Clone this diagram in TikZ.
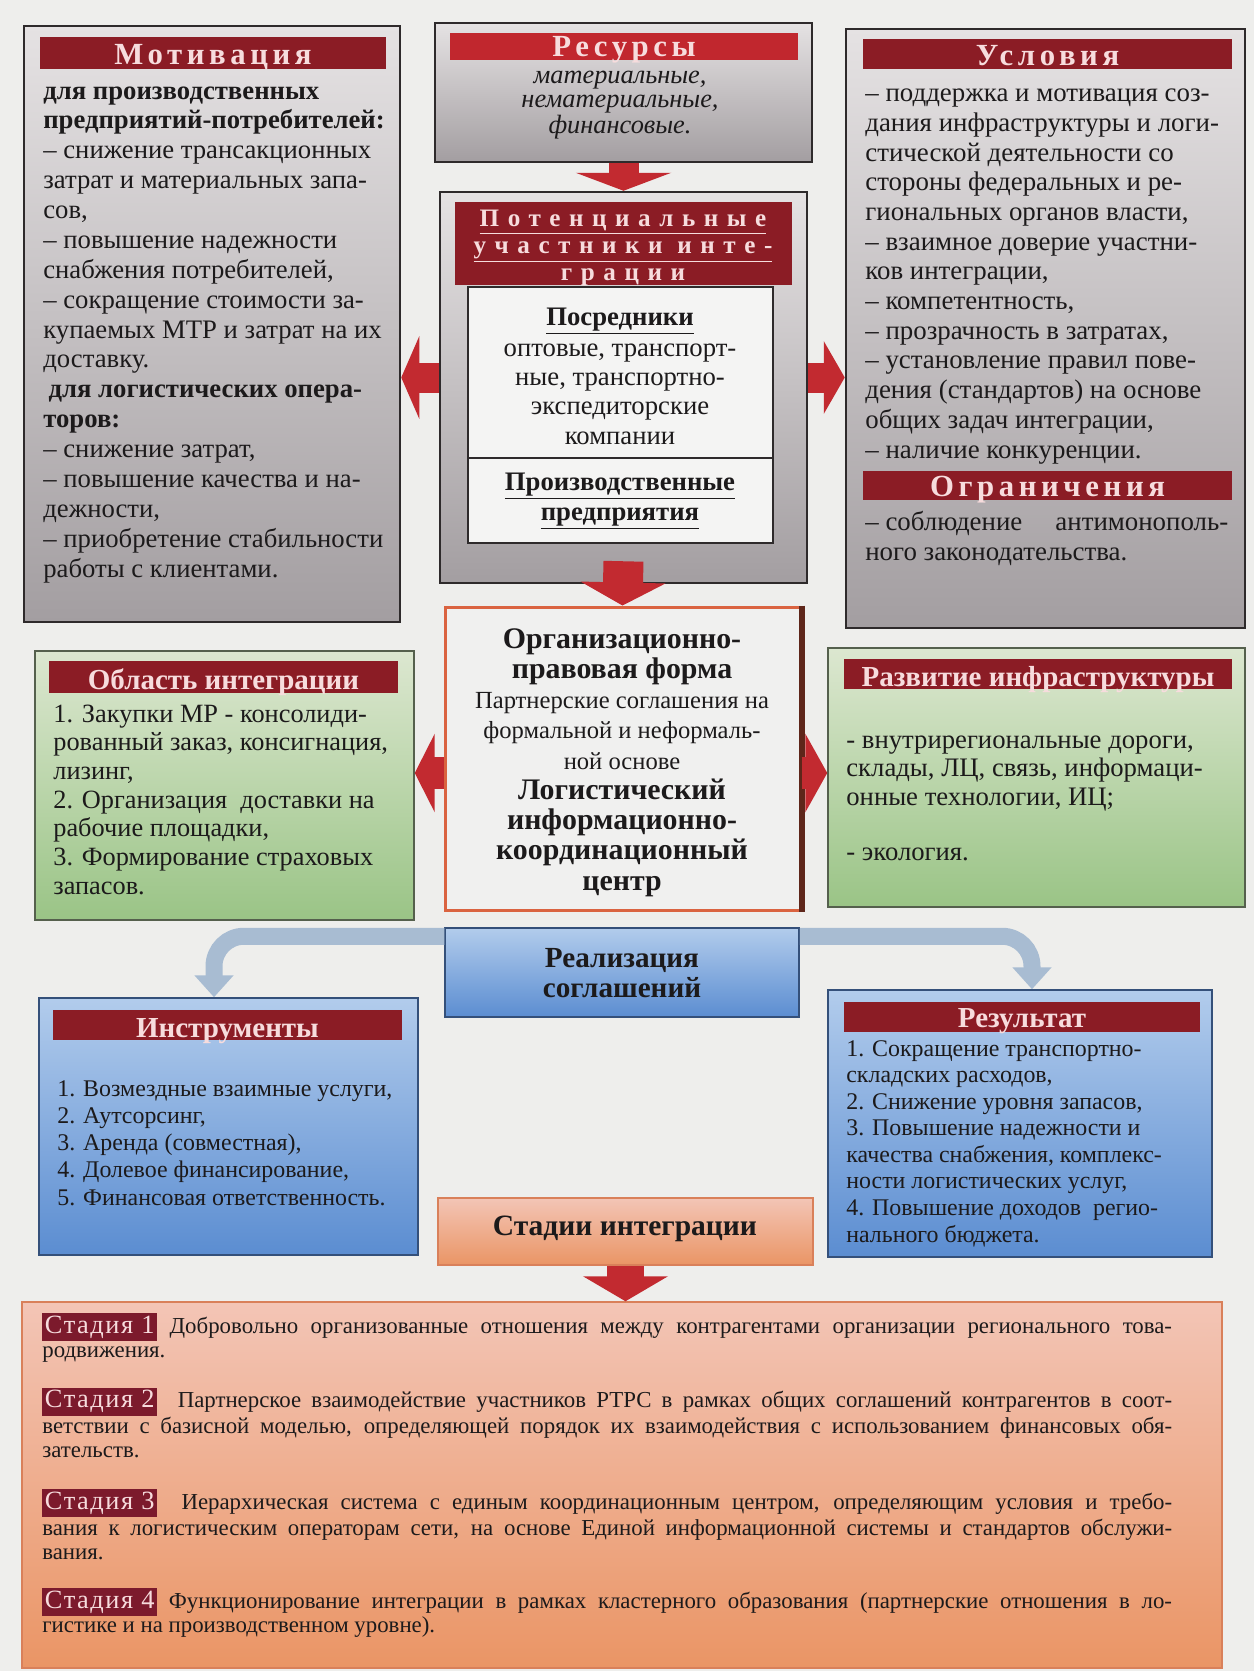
\documentclass[tikz,border=0pt]{standalone}
\usepackage{fontspec}
\setmainfont{Liberation Serif}
\newfontfamily\spacedfont[LetterSpace=15]{Liberation Serif}
\newfontfamily\widefont[LetterSpace=34]{Liberation Serif}
\newfontfamily\labelfont[LetterSpace=6]{Liberation Serif}
\usetikzlibrary{arrows.meta,fit,positioning}
\setlength{\parindent}{0pt}
\definecolor{paper}{HTML}{EEEEEC}
\definecolor{ink}{HTML}{1C1A1B}
\definecolor{frame}{HTML}{2E2A2B}
\definecolor{grayTop}{HTML}{E5E2E3}
\definecolor{grayBot}{HTML}{A39EA1}
\definecolor{barRed}{HTML}{8B1C25}
\definecolor{resRed}{HTML}{C1272E}
\definecolor{barText}{HTML}{F7DCDD}
\definecolor{panel}{HTML}{F4F4F3}
\definecolor{greenTop}{HTML}{DCE7D0}
\definecolor{greenBot}{HTML}{9AC486}
\definecolor{greenLine}{HTML}{55604D}
\definecolor{blueTop}{HTML}{B2CCEC}
\definecolor{blueBot}{HTML}{5B8DD1}
\definecolor{blueLine}{HTML}{34507A}
\definecolor{salmonTop}{HTML}{F3C5B6}
\definecolor{salmonBot}{HTML}{EA9565}
\definecolor{salmonLine}{HTML}{D9805A}
\definecolor{orgLine}{HTML}{DA6340}
\definecolor{orgDark}{HTML}{5E261A}
\definecolor{orgFill}{HTML}{F0F0EF}
\definecolor{arrowRed}{HTML}{C22A30}
\definecolor{bandBlue}{HTML}{A8BCD2}
\definecolor{stageRed}{HTML}{7C1A2C}
\newcommand\stagelabel[1]{{\setlength{\fboxsep}{1.5pt}\colorbox{stageRed}{\textcolor{barText}{\labelfont\fontsize{15}{15}\selectfont #1}}}}
\tikzset{
  basebox/.style={draw=frame,line width=0.05cm,inner sep=0pt},
  graybox/.style={basebox,top color=grayTop,bottom color=grayBot},
  greenbox/.style={basebox,draw=greenLine,line width=0.03cm,top color=greenTop,bottom color=greenBot},
  bluebox/.style={basebox,draw=blueLine,line width=0.03cm,top color=blueTop,bottom color=blueBot},
  salmonbox/.style={basebox,draw=salmonLine,line width=0.03cm,top color=salmonTop,bottom color=salmonBot},
  panelbox/.style={basebox,line width=0.03cm,fill=panel},
  titlebar/.style={fill=barRed,inner sep=0pt},
  bodytext/.style={align=left,inner sep=0pt,text=ink,anchor=base west},
  arrow/.style={draw=arrowRed,line width=0.64cm,-{Triangle[length=0.4cm,width=1.6cm]}},
  band/.style={draw=bandBlue,line width=0.34cm,rounded corners=0.6cm,-{Triangle[length=0.44cm,width=0.76cm]}}
}
\begin{document}
\begin{tikzpicture}[x=0.02cm,y=-0.02cm,
    bartext/.style={inner sep=0pt,text=barText,text height=13pt,text depth=0pt,font=\spacedfont\bfseries\fontsize{17.5}{19}\selectfont},
    plaintext/.style={inner sep=0pt,text=barText,text height=14pt,text depth=0pt,font=\bfseries\fontsize{16.5}{18}\selectfont},
    bodytx/.style={bodytext,font=\fontsize{15.2}{17}\selectfont},
    smallbody/.style={bodytext,font=\fontsize{13.6}{15.3}\selectfont},
    centertx/.style={bodytext,anchor=base,align=center},
    stagetext/.style={anchor=north west,inner sep=0pt,text width=22.6cm,align=justify,text=ink,font=\fontsize{13}{13.6}\selectfont}
  ]
  \fill[paper] (0,0) rectangle (1254,1671);
  \useasboundingbox (0,0) rectangle (1254,1671);

  \node[graybox,fit={(24,26) (400,622)}] (mot) {};
  \node[titlebar,fit={(40,37) (386,69)}] (motT) {};
  \node[bartext] (motTX) at (motT.center) {Мотивация};
  \node[bodytx] (motX) at (43,577) {\textbf{для производственных}\\
    \textbf{предприятий-потребителей:}\\
    – снижение трансакционных\\
    затрат и материальных запа-\\
    сов,\\
    – повышение надежности\\
    снабжения потребителей,\\
    – сокращение стоимости за-\\
    купаемых МТР и затрат на их\\
    доставку.\\
    \hspace{3pt}\textbf{для логистических опера-}\\
    \textbf{торов:}\\
    – снижение затрат,\\
    – повышение качества и на-\\
    дежности,\\
    – приобретение стабильности\\
    работы с клиентами.};

  \node[graybox,fit={(435,23) (812,162)}] (res) {};
  \node[titlebar,fill=resRed,fit={(450,33) (798,60)}] (resT) {};
  \node[bartext,text height=11.3pt] (resTX) at (resT.center) {Ресурсы};
  \node[centertx,font=\itshape\fontsize{15}{13.6}\selectfont] (resX) at (620,133)
    {материальные,\\нематериальные,\\финансовые.};

  \node[graybox,fit={(440,192) (807,583)}] (pot) {};
  \node[titlebar,fit={(455,202) (792,285)}] (potT) {};
  \node[centertx,text=barText,font=\widefont\bfseries\fontsize{14.3}{15.3}\selectfont] (potTX) at (623,280)
    {\underline{Потенциальные}\\\underline{участники инте-}\\\underline{грации}};
  \node[panelbox,fit={(468,287) (773,458)}] (potA) {};
  \node[panelbox,fit={(468,458) (773,543)}] (potB) {};
  \node[centertx,font=\fontsize{15.2}{16.6}\selectfont] (potX) at (620,444)
    {\textbf{\underline{Посредники}}\\[1pt]оптовые, транспорт-\\ные, транспортно-\\экспедиторские\\компании};
  \node[centertx,font=\fontsize{15.2}{17}\selectfont] (potY) at (620,520)
    {\textbf{\underline{Производственные}}\\\textbf{\underline{предприятия}}};

  \node[graybox,fit={(846,29) (1245,628)}] (cond) {};
  \node[titlebar,fit={(863,39) (1232,69)}] (condT) {};
  \node[bartext] (condTX) at (condT.center) {Условия};
  \node[bodytx,font=\fontsize{15.3}{16.9}\selectfont] (condX) at (865,458) {– поддержка и мотивация соз-\\
    дания инфраструктуры и логи-\\
    стической деятельности со\\
    стороны федеральных и ре-\\
    гиональных органов власти,\\
    – взаимное доверие участни-\\
    ков интеграции,\\
    – компетентность,\\
    – прозрачность в затратах,\\
    – установление правил пове-\\
    дения (стандартов) на основе\\
    общих задач интеграции,\\
    – наличие конкуренции.};
  \node[titlebar,fit={(863,471) (1232,500)}] (limT) {};
  \node[bartext] (limTX) at (limT.center) {Ограничения};
  \node[bodytx,font=\fontsize{15.3}{16.9}\selectfont] (limX) at (865,560)
    {\hbox to 7.26cm{– соблюдение\hfill антимонополь-}\\ного законодательства.};

  \node[basebox,draw=orgLine,line width=0.06cm,fill=orgFill,fit={(445,607) (800,910)}] (org) {};
  \node[centertx,font=\bfseries\fontsize{17}{17.2}\selectfont] (orgX) at (622,890)
    {Организационно-\\правовая форма\\
     {\mdseries\fontsize{14}{17}\selectfont Партнерские соглашения на}\\
     {\mdseries\fontsize{14}{17}\selectfont формальной и неформаль-}\\
     {\mdseries\fontsize{14}{17}\selectfont ной основе}\\
     Логистический\\информационно-\\координационный\\центр};
  \draw[orgDark,line width=0.12cm] (org.north east) -- (org.south east);

  \node[greenbox,fit={(35,651) (414,920)}] (obl) {};
  \node[titlebar,fit={(49,661) (398,693)}] (oblT) {};
  \node[plaintext] (oblTX) at (oblT.center) {Область интеграции};
  \node[bodytx,font=\fontsize{15}{16.3}\selectfont] (oblX) at (53,894) {1. Закупки МР - консолиди-\\
    рованный заказ, консигнация,\\
    лизинг,\\
    2. Организация\ \ доставки на\\
    рабочие площадки,\\
    3. Формирование страховых\\
    запасов.};

  \node[greenbox,fit={(828,648) (1245,907)}] (infra) {};
  \node[titlebar,fit={(844,659) (1232,689)}] (infraT) {};
  \node[plaintext] (infraTX) at (infraT.center) {Развитие инфраструктуры};
  \node[bodytx,font=\fontsize{15.2}{16.4}\selectfont] (infraX) at (846,860) {- внутрирегиональные дороги,\\
    склады, ЛЦ, связь, информаци-\\
    онные технологии, ИЦ;\\[14.5pt]
    - экология.};

  \node[bluebox,fit={(445,928) (799,1017)}] (real) {};
  \node[centertx,font=\bfseries\fontsize{16.6}{17}\selectfont] (realX) at (622,997) {Реализация\\соглашений};

  \node[bluebox,fit={(39,998) (418,1255)}] (instr) {};
  \node[titlebar,fit={(53,1010) (402,1040)}] (instrT) {};
  \node[plaintext] (instrTX) at (instrT.center) {Инструменты};
  \node[smallbody,font=\fontsize{13.6}{15.45}\selectfont] (instrX) at (57,1205) {1. Возмездные взаимные услуги,\\
    2. Аутсорсинг,\\
    3. Аренда (совместная),\\
    4. Долевое финансирование,\\
    5. Финансовая ответственность.};

  \node[bluebox,fit={(828,990) (1212,1257)}] (rez) {};
  \node[titlebar,fit={(844,1002) (1200,1032)}] (rezT) {};
  \node[plaintext,text height=12.4pt] (rezTX) at (rezT.center) {Результат};
  \node[smallbody,font=\fontsize{13.6}{15.1}\selectfont] (rezX) at (846,1242) {1. Сокращение транспортно-\\
    складских расходов,\\
    2. Снижение уровня запасов,\\
    3. Повышение надежности и\\
    качества снабжения, комплекс-\\
    ности логистических услуг,\\
    4. Повышение доходов\ \ регио-\\
    нального бюджета.};

  \node[salmonbox,fit={(438,1198) (813,1265)}] (sthead) {};
  \node[centertx,font=\bfseries\fontsize{16.8}{18}\selectfont] (stheadX) at (625,1235) {Стадии интеграции};
  \node[salmonbox,fit={(22,1302) (1222,1668)}] (stg) {};
  \node[stagetext] (stgX) at (42,1313) {%
    \stagelabel{Стадия 1} Добровольно организованные отношения между контрагентами организации регионального това-\linebreak родвижения.\par
    \vspace{13.6pt}\stagelabel{Стадия 2}\ \ Партнерское взаимодействие участников РТРС в рамках общих соглашений контрагентов в соот-\linebreak ветствии с базисной моделью, определяющей порядок их взаимодействия с использованием финансовых обя-\linebreak зательств.\par
    \vspace{15.9pt}\stagelabel{Стадия 3}\ \ Иерархическая система с единым координационным центром, определяющим условия и требо-\linebreak вания к логистическим операторам сети, на основе Единой информационной системы и стандартов обслужи-\linebreak вания.\par
    \vspace{14.3pt}\stagelabel{Стадия 4} Функционирование интеграции в рамках кластерного образования (партнерские отношения в ло-\linebreak гистике и на производственном уровне).};

  \draw[arrow,line width=0.6cm,-{Triangle[length=0.36cm,width=1.9cm]}] (res.south) -- (pot.north);
  \draw[arrow,line width=0.8cm,-{Triangle[length=0.46cm,width=1.68cm]}] ([yshift=0.46cm]pot.south) -- (org.north);
  \draw[arrow,line width=0.6cm,-{Triangle[length=0.36cm,width=1.64cm]}] ([yshift=0.2cm]pot.west) -- ([yshift=0.2cm]pot.west -| mot.east);
  \draw[arrow,line width=0.6cm,-{Triangle[length=0.42cm,width=1.44cm]}] ([yshift=0.2cm]pot.east) -- ([yshift=0.2cm]pot.east -| cond.west);
  \draw[arrow,-{Triangle[length=0.4cm,width=1.56cm]}] ([yshift=-0.29cm]org.west) -- ([yshift=-0.29cm]org.west -| obl.east);
  \draw[arrow,-{Triangle[length=0.44cm,width=1.56cm]}] ([yshift=-0.29cm]org.east) -- ([yshift=-0.29cm]org.east -| infra.west);
  \draw[arrow,line width=0.74cm,-{Triangle[length=0.5cm,width=1.68cm]}] (sthead.south) -- (sthead.south |- stg.north);
  \draw[band] ([yshift=-0.18cm]real.north west) -| ([xshift=-0.29cm]instr.north);
  \draw[band] ([yshift=-0.18cm]real.north east) -| ([xshift=0.24cm]rez.north);
\end{tikzpicture}
\end{document}
